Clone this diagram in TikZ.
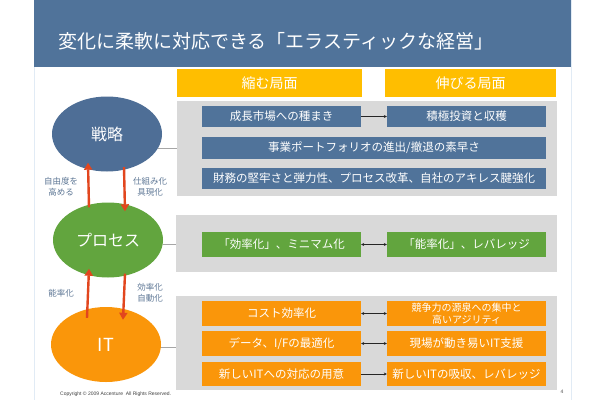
\documentclass[tikz,border=0pt]{standalone}
\usepackage{fontspec}
\setmainfont{Noto Sans CJK JP}
\newfontfamily\copyfont{Liberation Sans}
\usepackage{xcolor}
\definecolor{titlebar}{RGB}{80,115,154}
\definecolor{stratblue}{RGB}{78,110,150}
\definecolor{procgreen}{RGB}{98,165,62}
\definecolor{itorange}{RGB}{250,150,10}
\definecolor{headgold}{RGB}{255,190,0}
\definecolor{panelgray}{RGB}{217,217,217}
\definecolor{boxblue}{RGB}{80,115,154}
\definecolor{boxgreen}{RGB}{98,165,62}
\definecolor{boxorange}{RGB}{250,150,10}
\definecolor{arrred}{RGB}{226,70,30}
\definecolor{notegray}{RGB}{95,120,150}
\definecolor{slideedge}{RGB}{225,235,245}
\usepackage{tikz}
\usetikzlibrary{shapes.geometric,arrows.meta,positioning,calc}
\tikzset{
  core_ell/.style={ellipse,
    minimum width=110pt,minimum height=75pt,inner sep=0pt,
    text=white,font=\fontsize{16}{18}\selectfont},
  phase_head/.style={rectangle,fill=headgold,
    minimum height=28pt,inner sep=0pt,
    text=white,font=\fontsize{14}{16}\selectfont},
  panel_bg/.style={rectangle,fill=panelgray,inner sep=0pt},
  item_box/.style={rectangle,minimum width=159pt,minimum height=22pt,
    inner sep=0pt,align=center,text=white,
    font=\fontsize{11.5}{13}\selectfont},
  note_lbl/.style={align=center,text=notegray,inner sep=0pt,
    font=\fontsize{8.5}{11}\selectfont},
  up_arr/.style={-{Triangle[length=7pt,width=8pt]},line width=2.4pt,draw=arrred},
  link_line/.style={draw=black!35,line width=0.5pt},
  pair_arr/.style={-{Stealth[length=3pt,width=3pt]},line width=0.6pt,draw=black!85},
  both_arr/.style={{Stealth[length=3pt,width=3pt]}-{Stealth[length=3pt,width=3pt]},line width=0.6pt,draw=black!85},
}

\begin{document}
\begin{tikzpicture}[x=1pt,y=-1pt]
  \useasboundingbox[fill=white] (0,0) rectangle (610,400);
  % slide frame and title
  \draw[slideedge,line width=0.6pt] (34,0) -- (34,400) (571,0) -- (571,400);
  \fill[titlebar] (34,0) rectangle (571,67);
  \node (title) [anchor=west,text=white,inner sep=0pt,font=\fontsize{19}{21}\selectfont]
    at (58,41) {変化に柔軟に対応できる「エラスティックな経営」};

  % phase headers
  \node (hd_shrink) [phase_head,minimum width=185pt] at (269.5,83) {縮む局面};
  \node (hd_grow) [phase_head,minimum width=171pt] at (470.5,83) {伸びる局面};

  % gray panels
  \node (pan_strat) [panel_bg,minimum width=380pt,minimum height=95pt] at (367,148.5) {};
  \node (pan_proc) [panel_bg,minimum width=381pt,minimum height=57pt] at (366.5,243.5) {};
  \node (pan_it) [panel_bg,minimum width=381pt,minimum height=94pt] at (366.5,343) {};

  % three layers
  \node (strat) [core_ell,fill=stratblue] at (107,134) {戦略};
  \node (proc) [core_ell,fill=procgreen] at (108,240) {プロセス};
  \node (it) [core_ell,fill=itorange,font=\fontsize{18}{20}\selectfont] at (106,344.5) {IT};

  \draw[link_line] (strat.-15) -- (strat.-15 -| pan_strat.west);
  \draw[link_line] (proc.-4) -- (proc.-4 -| pan_proc.west);
  \draw[link_line] (it.-3) -- (it.-3 -| pan_it.west);

  % strategy items
  \node (s_seed) [item_box,fill=boxblue,minimum height=21pt] at (281.5,116.5) {成長市場への種まき};
  \node (s_invest) [item_box,fill=boxblue,minimum height=21pt] at (466.5,116.5) {積極投資と収穫};
  \node (s_port) [item_box,fill=boxblue,minimum width=344pt] at (374,148) {事業ポートフォリオの進出/撤退の素早さ};
  \node (s_fin) [item_box,fill=boxblue,minimum width=344pt,minimum height=21pt] at (374,178.5)
    {財務の堅牢さと弾力性、プロセス改革、自社のアキレス腱強化};
  \draw[pair_arr] (s_seed) -- (s_invest);

  % process items
  \node (p_eff) [item_box,fill=boxgreen,minimum height=25pt] at (281.5,244.5) {「効率化」、ミニマム化};
  \node (p_lev) [item_box,fill=boxgreen,minimum height=25pt] at (466.5,244.5) {「能率化」、レバレッジ};
  \draw[both_arr] (p_eff) -- (p_lev);

  % IT items
  \node (i_cost) [item_box,fill=boxorange,minimum height=25pt] at (281.5,313.5) {コスト効率化};
  \node (i_agile) [item_box,fill=boxorange,minimum height=25pt,font=\fontsize{10}{12}\selectfont]
    at (466.5,313.5) {競争力の源泉への集中と\\高いアジリティ};
  \node (i_data) [item_box,fill=boxorange,minimum height=25pt] at (281.5,343.5) {データ、I/Fの最適化};
  \node (i_field) [item_box,fill=boxorange,minimum height=25pt] at (466.5,343.5) {現場が動き易いIT支援};
  \node (i_ready) [item_box,fill=boxorange,minimum height=24pt] at (281.5,374) {新しいITへの対応の用意};
  \node (i_absorb) [item_box,fill=boxorange,minimum height=24pt] at (466.5,374) {新しいITの吸収、レバレッジ};
  \draw[both_arr] (i_cost) -- (i_agile);
  \draw[both_arr] (i_data) -- (i_field);
  \draw[pair_arr] (i_ready) -- (i_absorb);

  % red arrows between layers
  \draw[up_arr] ([xshift=-19pt,yshift=-5pt]proc.north) -- ([xshift=-19pt,yshift=9pt]strat.south);
  \draw[up_arr] ([xshift=17pt,yshift=4.5pt]strat.south) -- ([xshift=17pt,yshift=-9pt]proc.north);
  \draw[up_arr] ([xshift=-19pt,yshift=-11pt]it.north) -- ([xshift=-19pt,yshift=9pt]proc.south);
  \draw[up_arr] ([xshift=17pt,yshift=4pt]proc.south) -- ([xshift=17pt,yshift=-13pt]it.north);

  \node (n_free) [note_lbl] at (61,187) {自由度を\\高める};
  \node (n_impl) [note_lbl] at (150,187) {仕組み化\\具現化};
  \node (n_prod) [note_lbl] at (61,293) {能率化};
  \node (n_auto) [note_lbl] at (150,293) {効率化\\自動化};

  % footer
  \node (copy) [anchor=west,inner sep=0pt,text=black!75,font=\copyfont\fontsize{5}{6}\selectfont]
    at (60,394) {Copyright \textcopyright\ 2009 Accenture\ \ All Rights Reserved.};
  \node (pageno) [inner sep=0pt,text=black!70,font=\copyfont\fontsize{5}{6}\selectfont] at (562,392) {4};
\end{tikzpicture}
\end{document}
